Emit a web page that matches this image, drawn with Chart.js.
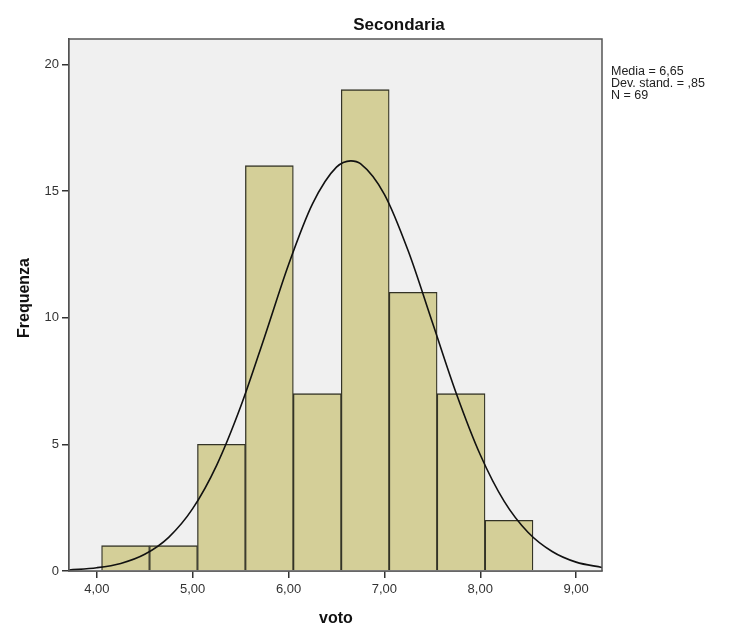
<!DOCTYPE html>
<html>
<head>
<meta charset="utf-8">
<script src="https://cdn.jsdelivr.net/npm/chart.js@4.4.1/dist/chart.umd.min.js"></script>
<style>
  body { margin:0; background:#fff; }
  #wrap { width:731px; height:626px; }
</style>
</head>
<body>
<div id="wrap"><canvas id="hist" width="731" height="626"></canvas></div>
<script>
// histogram bins (centre of each 0.5 wide bin) and counts
var binCenters = [4.30, 4.80, 5.30, 5.80, 6.30, 6.80, 7.30, 7.80, 8.30];
var counts     = [1, 1, 5, 16, 7, 19, 11, 7, 2];

// normal curve
var curveX = [3.71, 4.00, 4.25, 4.50, 4.75, 5.00, 5.25, 5.50, 5.75, 6.00, 6.25, 6.50, 6.65,
              6.75, 7.00, 7.25, 7.50, 7.75, 8.00, 8.25, 8.50, 8.75, 9.00, 9.27];
var curveY = [0.04, 0.13, 0.30, 0.66, 1.33, 2.46, 4.17, 6.48, 9.24, 12.09, 14.49, 15.94, 16.19,
              16.08, 14.87, 12.62, 9.82, 7.01, 4.59, 2.75, 1.52, 0.77, 0.35, 0.14];

var xTicks = [4, 5, 6, 7, 8, 9];
var yTicks = [0, 5, 10, 15, 20];

var statLines = ['Media = 6,65', 'Dev. stand. = ,85', 'N = 69'];

var barData = binCenters.map(function (x, i) { return { x: x, y: counts[i] }; });
var lineData = curveX.map(function (x, i) { return { x: x, y: curveY[i] }; });

var decor = {
  id: 'decor',
  beforeDatasetsDraw: function (chart) {
    var a = chart.chartArea, ctx = chart.ctx;
    ctx.save();
    ctx.fillStyle = '#f0f0f0';
    ctx.fillRect(a.left, a.top, a.right - a.left, a.bottom - a.top);
    ctx.restore();
  },
  afterDraw: function (chart) {
    var a = chart.chartArea, ctx = chart.ctx;
    ctx.save();
    ctx.strokeStyle = '#555';
    ctx.lineWidth = 1.5;
    ctx.strokeRect(a.left, a.top, a.right - a.left, a.bottom - a.top);

    ctx.fillStyle = '#111';
    ctx.textAlign = 'center';
    ctx.textBaseline = 'middle';
    ctx.font = 'bold 17px "Liberation Sans", Arial, sans-serif';
    ctx.fillText('Secondaria', 399, 25);

    ctx.font = 'bold 16px "Liberation Sans", Arial, sans-serif';
    ctx.fillText('voto', 336, 619);

    ctx.save();
    ctx.translate(25, 298);
    ctx.rotate(-Math.PI / 2);
    ctx.fillText('Frequenza', 0, 0);
    ctx.restore();

    ctx.textAlign = 'left';
    ctx.fillStyle = '#222';
    ctx.font = '12.5px "Liberation Sans", Arial, sans-serif';
    for (var i = 0; i < statLines.length; i++) {
      ctx.fillText(statLines[i], 611, 72 + i * 12);
    }
    ctx.restore();
  }
};

new Chart(document.getElementById('hist'), {
  type: 'bar',
  data: {
    datasets: [
      {
        type: 'line',
        data: lineData,
        borderColor: '#111',
        borderWidth: 1.6,
        pointRadius: 0,
        fill: false,
        cubicInterpolationMode: 'monotone',
        order: 0
      },
      {
        data: barData,
        backgroundColor: '#d4cf98',
        borderColor: '#333326',
        borderWidth: 1.3,
        barPercentage: 1,
        categoryPercentage: 1,
        order: 1
      }
    ]
  },
  options: {
    responsive: false,
    animation: false,
    layout: { padding: { top: 39, right: 129, left: 0, bottom: 0 } },
    plugins: { legend: { display: false }, tooltip: { enabled: false }, title: { display: false } },
    scales: {
      x: {
        type: 'linear',
        min: 3.71,
        max: 9.27,
        offset: false,
        afterFit: function (s) { s.height = 55; },
        afterBuildTicks: function (s) { s.ticks = xTicks.map(function (v) { return { value: v }; }); },
        grid: { offset: false, drawOnChartArea: false, drawTicks: true, tickLength: 7, color: '#333', lineWidth: 1.5 },
        border: { display: true, color: '#444', width: 1.5 },
        ticks: {
          color: '#333',
          padding: 4,
          font: { family: '"Liberation Sans", Arial, sans-serif', size: 13 },
          callback: function (v) { return v.toFixed(2).replace('.', ','); }
        }
      },
      y: {
        min: 0,
        max: 21,
        afterFit: function (s) { s.width = 69; },
        afterBuildTicks: function (s) { s.ticks = yTicks.map(function (v) { return { value: v }; }); },
        grid: { drawOnChartArea: false, drawTicks: true, tickLength: 7, color: '#333', lineWidth: 1.5 },
        border: { display: true, color: '#444', width: 1.5 },
        ticks: {
          color: '#333',
          padding: 3,
          font: { family: '"Liberation Sans", Arial, sans-serif', size: 13 }
        }
      }
    }
  },
  plugins: [decor]
});
</script>
</body>
</html>
